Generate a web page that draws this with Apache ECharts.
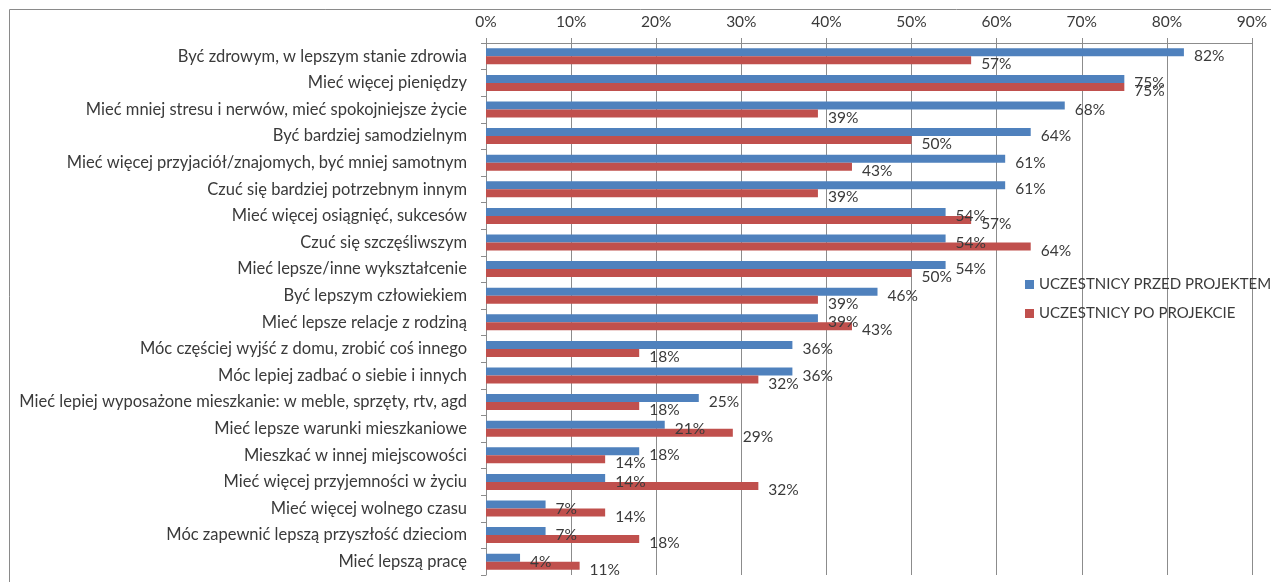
<!DOCTYPE html>
<html>
<head>
<meta charset="utf-8">
<script src="https://cdn.jsdelivr.net/npm/echarts@6/dist/echarts.min.js"></script>
<style>
  html, body { margin: 0; padding: 0; background: #ffffff; }
  #chart { width: 1271px; height: 582px; }
</style>
</head>
<body>
<div id="chart"></div>
<script>
// Survey answers: what participants wanted to change, before and after the project (%)
const categories = [
  'Być zdrowym, w lepszym stanie zdrowia',
  'Mieć więcej pieniędzy',
  'Mieć mniej stresu i nerwów, mieć spokojniejsze życie',
  'Być bardziej samodzielnym',
  'Mieć więcej przyjaciół/znajomych, być mniej samotnym',
  'Czuć się bardziej potrzebnym innym',
  'Mieć więcej osiągnięć, sukcesów',
  'Czuć się szczęśliwszym',
  'Mieć lepsze/inne wykształcenie',
  'Być lepszym człowiekiem',
  'Mieć lepsze relacje z rodziną',
  'Móc częściej wyjść z domu, zrobić coś innego',
  'Móc lepiej zadbać o siebie i innych',
  'Mieć lepiej wyposażone mieszkanie: w meble, sprzęty, rtv, agd',
  'Mieć lepsze warunki mieszkaniowe',
  'Mieszkać w innej miejscowości',
  'Mieć więcej przyjemności w życiu',
  'Mieć więcej wolnego czasu',
  'Móc zapewnić lepszą przyszłość dzieciom',
  'Mieć lepszą pracę'
];
const beforeProject = [82, 75, 68, 64, 61, 61, 54, 54, 54, 46, 39, 36, 36, 25, 21, 18, 14, 7, 7, 4];
const afterProject  = [57, 75, 39, 50, 43, 39, 57, 64, 50, 39, 43, 18, 32, 18, 29, 14, 32, 14, 18, 11];
const seriesNames = ['UCZESTNICY PRZED PROJEKTEM', 'UCZESTNICY PO PROJEKCIE'];

const FONT = 'Lato';
const TEXT = '#3a3a3a';
const GRID = '#8c8c8c';

const chart = echarts.init(document.getElementById('chart'), null, { renderer: 'canvas' });

const valueLabel = {
  show: true,
  position: 'right',
  distance: 10,
  offset: [0, 4],
  formatter: p => p.value + '%',
  color: TEXT,
  fontFamily: FONT,
  fontSize: 15.5
};

chart.setOption({
  backgroundColor: '#ffffff',
  animation: false,
  graphic: [{
    type: 'rect',
    shape: { x: 9.5, y: 9.5, width: 1400, height: 700 },
    style: { fill: 'none', stroke: '#8a8a8a', lineWidth: 1 },
    silent: true
  }],
  grid: { left: 486, right: 19, top: 43, bottom: 7 },
  legend: {
    orient: 'vertical',
    left: 1020,
    top: 272,
    icon: 'rect',
    itemWidth: 9,
    itemHeight: 9,
    itemGap: 14,
    data: seriesNames,
    textStyle: { color: TEXT, fontFamily: FONT, fontSize: 15 }
  },
  xAxis: {
    type: 'value',
    position: 'top',
    min: 0,
    max: 90,
    interval: 10,
    axisLine: { show: true, lineStyle: { color: GRID } },
    axisTick: { show: true, length: 5, lineStyle: { color: GRID } },
    splitLine: { show: true, lineStyle: { color: GRID, width: 1 } },
    axisLabel: { formatter: '{value}%', color: TEXT, fontFamily: FONT, fontSize: 15.5, margin: 13 }
  },
  yAxis: {
    type: 'category',
    inverse: true,
    data: categories,
    axisLine: { show: true, lineStyle: { color: GRID } },
    axisTick: { show: true, length: 5, lineStyle: { color: GRID } },
    axisLabel: { color: TEXT, fontFamily: FONT, fontSize: 16.5, margin: 19 }
  },
  series: [
    {
      name: seriesNames[0],
      type: 'bar',
      data: beforeProject,
      barWidth: 8,
      barGap: '0%',
      itemStyle: { color: '#4f81bd' },
      label: valueLabel
    },
    {
      name: seriesNames[1],
      type: 'bar',
      data: afterProject,
      barWidth: 8,
      barGap: '0%',
      itemStyle: { color: '#c0504d' },
      label: valueLabel
    }
  ]
});
</script>
</body>
</html>
